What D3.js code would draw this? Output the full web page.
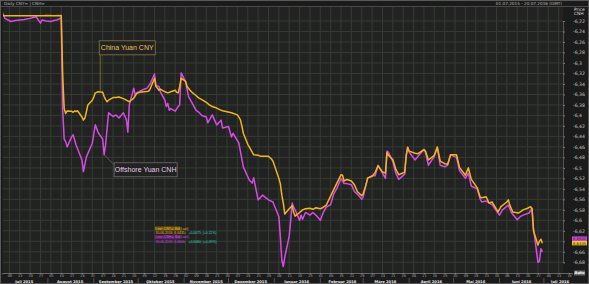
<!DOCTYPE html>
<html>
<head>
<meta charset="utf-8">
<script src="https://cdn.jsdelivr.net/npm/d3@7"></script>
<style>
  body { margin: 0; background: #1c1c1c; }
  svg { display: block; font-family: 'DejaVu Sans', sans-serif; }
</style>
</head>
<body>
<script>
// values (price shown as negative, as on the chart)
const cnyData = [
  ["2015-07-01",-6.2097],["2015-07-03",-6.2098],["2015-07-08",-6.2100],["2015-07-10",-6.2098],["2015-07-15",-6.2100],
  ["2015-07-17",-6.2100],["2015-07-22",-6.2099],["2015-07-24",-6.2100],["2015-07-29",-6.2100],["2015-07-31",-6.2097],
  ["2015-08-05",-6.2098],["2015-08-10",-6.2097],["2015-08-11",-6.3231],["2015-08-12",-6.3870],["2015-08-13",-6.3962],
  ["2015-08-14",-6.3915],["2015-08-17",-6.3920],["2015-08-18",-6.3940],["2015-08-19",-6.3917],["2015-08-20",-6.3925],
  ["2015-08-21",-6.3910],["2015-08-24",-6.4030],["2015-08-25",-6.4090],["2015-08-26",-6.4050],["2015-08-27",-6.3930],
  ["2015-08-28",-6.3800],["2015-08-31",-6.3710],["2015-09-01",-6.3650],["2015-09-02",-6.3570],["2015-09-04",-6.3550],
  ["2015-09-07",-6.3560],["2015-09-08",-6.3640],["2015-09-09",-6.3700],["2015-09-10",-6.3740],["2015-09-11",-6.3710],
  ["2015-09-14",-6.3660],["2015-09-16",-6.3660],["2015-09-18",-6.3650],["2015-09-21",-6.3680],["2015-09-23",-6.3710],
  ["2015-09-25",-6.3740],["2015-09-28",-6.3670],["2015-09-30",-6.3580],["2015-10-02",-6.3560],["2015-10-05",-6.3550],
  ["2015-10-08",-6.3540],["2015-10-09",-6.3500],["2015-10-12",-6.3290],["2015-10-13",-6.3450],["2015-10-14",-6.3480],
  ["2015-10-15",-6.3520],["2015-10-16",-6.3500],["2015-10-19",-6.3550],["2015-10-21",-6.3570],["2015-10-23",-6.3550],
  ["2015-10-26",-6.3520],["2015-10-27",-6.3560],["2015-10-28",-6.3570],["2015-10-29",-6.3450],["2015-10-30",-6.3290],
  ["2015-11-02",-6.3350],["2015-11-03",-6.3450],["2015-11-05",-6.3520],["2015-11-06",-6.3550],["2015-11-09",-6.3620],
  ["2015-11-11",-6.3670],["2015-11-13",-6.3700],["2015-11-16",-6.3750],["2015-11-18",-6.3800],["2015-11-20",-6.3830],
  ["2015-11-23",-6.3860],["2015-11-25",-6.3890],["2015-11-27",-6.3910],["2015-11-30",-6.3930],["2015-12-03",-6.3950],
  ["2015-12-07",-6.3990],["2015-12-09",-6.4080],["2015-12-10",-6.4200],["2015-12-11",-6.4340],["2015-12-14",-6.4550],
  ["2015-12-15",-6.4600],["2015-12-17",-6.4700],["2015-12-18",-6.4750],["2015-12-21",-6.4760],["2015-12-23",-6.4780],
  ["2015-12-28",-6.4780],["2015-12-30",-6.4830],["2015-12-31",-6.4870],["2016-01-04",-6.5200],["2016-01-05",-6.5300],
  ["2016-01-06",-6.5520],["2016-01-07",-6.5670],["2016-01-08",-6.5880],["2016-01-11",-6.5780],["2016-01-12",-6.5750],
  ["2016-01-13",-6.5720],["2016-01-14",-6.5850],["2016-01-15",-6.5920],["2016-01-18",-6.5850],["2016-01-20",-6.5800],
  ["2016-01-22",-6.5780],["2016-01-25",-6.5770],["2016-01-27",-6.5790],["2016-01-29",-6.5760],["2016-02-01",-6.5780],
  ["2016-02-03",-6.5750],["2016-02-05",-6.5710],["2016-02-15",-6.5130],["2016-02-16",-6.5140],["2016-02-17",-6.5250],
  ["2016-02-19",-6.5220],["2016-02-22",-6.5250],["2016-02-24",-6.5320],["2016-02-26",-6.5450],["2016-02-29",-6.5530],
  ["2016-03-01",-6.5490],["2016-03-03",-6.5310],["2016-03-04",-6.5190],["2016-03-07",-6.5160],["2016-03-09",-6.5090],
  ["2016-03-11",-6.4960],["2016-03-14",-6.5080],["2016-03-16",-6.5100],["2016-03-17",-6.4710],["2016-03-18",-6.4760],
  ["2016-03-21",-6.4840],["2016-03-23",-6.5030],["2016-03-25",-6.5130],["2016-03-29",-6.5080],["2016-03-30",-6.4780],
  ["2016-03-31",-6.4610],["2016-04-01",-6.4680],["2016-04-05",-6.4720],["2016-04-07",-6.4730],["2016-04-11",-6.4650],
  ["2016-04-12",-6.4680],["2016-04-14",-6.4850],["2016-04-18",-6.4760],["2016-04-20",-6.4600],["2016-04-22",-6.4870],
  ["2016-04-25",-6.4920],["2016-04-27",-6.4930],["2016-04-29",-6.4750],["2016-05-03",-6.4750],["2016-05-05",-6.4990],
  ["2016-05-09",-6.5140],["2016-05-11",-6.5000],["2016-05-13",-6.5220],["2016-05-17",-6.5380],["2016-05-19",-6.5560],
  ["2016-05-20",-6.5570],["2016-05-23",-6.5550],["2016-05-25",-6.5670],["2016-05-27",-6.5650],["2016-05-31",-6.5840],
  ["2016-06-02",-6.5740],["2016-06-06",-6.5650],["2016-06-07",-6.5610],["2016-06-08",-6.5710],["2016-06-10",-6.5840],
  ["2016-06-14",-6.5860],["2016-06-17",-6.5800],["2016-06-20",-6.5770],["2016-06-22",-6.5740],["2016-06-23",-6.5780],
  ["2016-06-24",-6.6200],["2016-06-27",-6.6470],["2016-06-28",-6.6400],["2016-06-29",-6.6360],["2016-06-30",-6.6435]
];

const cnhData = [
  ["2015-07-01",-6.2020],["2015-07-03",-6.2150],["2015-07-07",-6.2210],["2015-07-10",-6.2190],["2015-07-13",-6.2180],
  ["2015-07-16",-6.2170],["2015-07-20",-6.2150],["2015-07-24",-6.2120],["2015-07-27",-6.2240],["2015-07-28",-6.2180],
  ["2015-07-31",-6.2200],["2015-08-03",-6.2210],["2015-08-05",-6.2190],["2015-08-07",-6.2180],["2015-08-10",-6.2140],
  ["2015-08-11",-6.3900],["2015-08-12",-6.4450],["2015-08-13",-6.4500],["2015-08-14",-6.4600],["2015-08-17",-6.4410],
  ["2015-08-18",-6.4370],["2015-08-20",-6.4560],["2015-08-24",-6.4850],["2015-08-25",-6.5070],["2015-08-27",-6.4790],
  ["2015-08-31",-6.4530],["2015-09-02",-6.4180],["2015-09-04",-6.4330],["2015-09-07",-6.4450],["2015-09-08",-6.4750],
  ["2015-09-09",-6.4550],["2015-09-10",-6.4250],["2015-09-11",-6.3950],["2015-09-14",-6.4020],["2015-09-16",-6.3990],
  ["2015-09-18",-6.4050],["2015-09-21",-6.3950],["2015-09-23",-6.4080],["2015-09-24",-6.4320],["2015-09-25",-6.3800],
  ["2015-09-28",-6.3480],["2015-09-29",-6.3620],["2015-09-30",-6.3570],["2015-10-02",-6.3540],["2015-10-05",-6.3500],
  ["2015-10-07",-6.3480],["2015-10-09",-6.3400],["2015-10-12",-6.3210],["2015-10-13",-6.3430],["2015-10-15",-6.3450],
  ["2015-10-16",-6.3550],["2015-10-19",-6.3710],["2015-10-20",-6.3830],["2015-10-21",-6.3770],["2015-10-22",-6.3900],
  ["2015-10-23",-6.3870],["2015-10-26",-6.3920],["2015-10-28",-6.3830],["2015-10-29",-6.3800],["2015-10-30",-6.3190],
  ["2015-11-02",-6.3360],["2015-11-04",-6.3640],["2015-11-06",-6.3740],["2015-11-09",-6.3900],["2015-11-11",-6.3940],
  ["2015-11-13",-6.4000],["2015-11-16",-6.4030],["2015-11-17",-6.4140],["2015-11-20",-6.3990],["2015-11-23",-6.4180],
  ["2015-11-26",-6.4090],["2015-11-27",-6.4240],["2015-12-01",-6.4210],["2015-12-03",-6.4410],["2015-12-04",-6.4340],
  ["2015-12-08",-6.4530],["2015-12-11",-6.4980],["2015-12-15",-6.5230],["2015-12-17",-6.5290],["2015-12-18",-6.5190],
  ["2015-12-21",-6.5610],["2015-12-24",-6.5520],["2015-12-28",-6.5610],["2015-12-31",-6.5650],["2016-01-04",-6.5930],
  ["2016-01-05",-6.6310],["2016-01-06",-6.6760],["2016-01-07",-6.6880],["2016-01-08",-6.6700],["2016-01-11",-6.6300],
  ["2016-01-12",-6.6000],["2016-01-13",-6.5670],["2016-01-14",-6.5750],["2016-01-15",-6.5800],["2016-01-18",-6.6000],
  ["2016-01-19",-6.5900],["2016-01-20",-6.5980],["2016-01-22",-6.5850],["2016-01-25",-6.5900],["2016-01-27",-6.5850],
  ["2016-01-29",-6.5900],["2016-02-01",-6.6000],["2016-02-03",-6.5850],["2016-02-05",-6.5750],["2016-02-08",-6.5700],
  ["2016-02-10",-6.5500],["2016-02-12",-6.5400],["2016-02-15",-6.5200],["2016-02-17",-6.5300],["2016-02-19",-6.5300],
  ["2016-02-22",-6.5320],["2016-02-24",-6.5450],["2016-02-26",-6.5500],["2016-02-29",-6.5600],["2016-03-01",-6.5550],
  ["2016-03-03",-6.5300],["2016-03-04",-6.5200],["2016-03-07",-6.5150],["2016-03-09",-6.5150],["2016-03-11",-6.4950],
  ["2016-03-14",-6.5100],["2016-03-16",-6.5200],["2016-03-17",-6.4680],["2016-03-18",-6.4700],["2016-03-21",-6.4880],
  ["2016-03-23",-6.5100],["2016-03-25",-6.5220],["2016-03-29",-6.5120],["2016-03-30",-6.4750],["2016-03-31",-6.4600],
  ["2016-04-01",-6.4700],["2016-04-05",-6.4850],["2016-04-07",-6.4780],["2016-04-11",-6.4650],["2016-04-12",-6.4700],
  ["2016-04-14",-6.4950],["2016-04-18",-6.4780],["2016-04-20",-6.4620],["2016-04-22",-6.4950],["2016-04-25",-6.4980],
  ["2016-04-27",-6.4950],["2016-04-29",-6.4750],["2016-05-03",-6.4800],["2016-05-05",-6.5050],["2016-05-09",-6.5200],
  ["2016-05-11",-6.5100],["2016-05-13",-6.5350],["2016-05-17",-6.5400],["2016-05-19",-6.5600],["2016-05-20",-6.5650],
  ["2016-05-23",-6.5630],["2016-05-25",-6.5670],["2016-05-27",-6.5700],["2016-06-01",-6.5900],["2016-06-03",-6.5800],
  ["2016-06-07",-6.5710],["2016-06-09",-6.5850],["2016-06-13",-6.5990],["2016-06-15",-6.5930],["2016-06-17",-6.5900],
  ["2016-06-21",-6.5860],["2016-06-23",-6.5770],["2016-06-24",-6.6150],["2016-06-27",-6.6800],["2016-06-28",-6.6780],
  ["2016-06-29",-6.6540],["2016-06-30",-6.6600]
];

const yTicks = [-6.22,-6.24,-6.26,-6.28,-6.3,-6.32,-6.34,-6.36,-6.38,-6.4,-6.42,-6.44,-6.46,-6.48,
  -6.5,-6.52,-6.54,-6.56,-6.58,-6.6,-6.62,-6.64,-6.66,-6.68];
const monthNames = ["Januar","Februar","März","April","Mai","Juni","Juli","August","September","Oktober","November","Dezember"];
const xStart = "2015-07-01", xEnd = "2016-07-20";
const legendRows = [
  ["Line; CNY=; Bid(Last)", ""],
  ["30.06.2016; 6,6435;", "+0,0075; (+0,11%)"],
  ["Line; CNH=; Bid(Last)", ""],
  ["30.06.2016; 6,6600;", "+0,0060; (+0,09%)"]
];

const W = 589, H = 284;
const plot = { left: 3, right: 563, top: 7, bottom: 273 };
const cnyColor = '#f2b61c', cnhColor = '#d84ae6';
const smallFont = "'Liberation Sans', Arial, sans-serif";

const parse = d3.timeParse('%Y-%m-%d');
const de = d3.formatLocale({ decimal: ',', thousands: '.', grouping: [3], currency: ['', ' €'], minus: '-' });
const fmt = de.format('.2~f');

const svg = d3.select('body').append('svg').attr('width', W).attr('height', H);
svg.append('rect').attr('width', W).attr('height', H).attr('fill', '#1b1b1b');
svg.append('rect')
  .attr('x', plot.left).attr('y', plot.top)
  .attr('width', plot.right - plot.left).attr('height', plot.bottom - plot.top)
  .attr('fill', '#222222');

const x = d3.scaleTime().domain([parse(xStart), parse(xEnd)]).range([2, 572]);
const y = d3.scaleLinear().domain([-6.68, -6.22]).range([262.3, 21]);

svg.append('clipPath').attr('id', 'clip').append('rect')
  .attr('x', plot.left).attr('y', plot.top)
  .attr('width', plot.right - plot.left).attr('height', plot.bottom - plot.top);

// grid
const mondays = d3.timeMonday.range(parse(xStart), parse(xEnd));
const grid = svg.append('g').attr('clip-path', 'url(#clip)');
grid.selectAll('line.v').data(mondays).enter().append('line')
  .attr('x1', d => x(d)).attr('x2', d => x(d))
  .attr('y1', plot.top).attr('y2', plot.bottom)
  .attr('stroke', '#323e30').attr('stroke-width', 1);
grid.selectAll('line.h').data(yTicks).enter().append('line')
  .attr('x1', plot.left).attr('x2', plot.right)
  .attr('y1', d => y(d)).attr('y2', d => y(d))
  .attr('stroke', '#323e30').attr('stroke-width', 1);

// lines
let line = d3.line().x(d => x(parse(d[0]))).y(d => y(d[1]));
let lines = svg.append('g').attr('clip-path', 'url(#clip)');
lines.append('path').datum(cnhData).attr('d', line)
  .attr('fill', 'none').attr('stroke', cnhColor).attr('stroke-width', 1.5).attr('stroke-linejoin', 'round');
lines.append('path').datum(cnyData).attr('d', line)
  .attr('fill', 'none').attr('stroke', cnyColor).attr('stroke-width', 1.5).attr('stroke-linejoin', 'round');

// annotations
let annotate = (point, dx, dy, w, label, textColor, boxColor, diagonal) => {
  let px = x(parse(point[0])), py = y(point[1]);
  let bx = px + dx, by = py + dy;
  let g = svg.append('g');
  if (diagonal) {
    g.append('line').attr('x1', px).attr('y1', py).attr('x2', bx).attr('y2', by + 2)
      .attr('stroke', boxColor).attr('stroke-width', 0.8);
  } else {
    g.append('line').attr('x1', bx + 1).attr('y1', py).attr('x2', bx + 1).attr('y2', by + 14)
      .attr('stroke', boxColor).attr('stroke-width', 0.8);
  }
  g.append('rect').attr('x', bx).attr('y', by).attr('width', w).attr('height', 14)
    .attr('fill', '#222').attr('stroke', boxColor).attr('stroke-width', 0.8);
  g.append('text').attr('x', bx + w / 2).attr('y', by + 9.6)
    .attr('text-anchor', 'middle').attr('fill', textColor)
    .style('font-family', smallFont).style('font-size', '7px')
    .text(label);
};
annotate(cnyData.find(d => d[0] === '2015-09-04'), 1, -51, 56, 'China Yuan CNY', '#e8c35a', '#8c7a3c', false);
annotate(cnhData.find(d => d[0] === '2015-09-08'), 10, 8, 63, 'Offshore Yuan CNH', '#e4cfe6', '#6e6a70', true);

// legend block
let legend = svg.append('g').attr('transform', 'translate(155,226.5)')
  .style('font-size', '3.4px').style('font-family', smallFont);
legendRows.forEach((row, i) => {
  let col = i < 2 ? cnyColor : cnhColor;
  let ly = i * 4.4;
  if (i % 2 === 0) {
    legend.append('rect').attr('x', 0).attr('y', ly).attr('width', 25).attr('height', 4)
      .attr('fill', i < 2 ? '#6e5a12' : '#5e2266');
  }
  legend.append('text').attr('x', 0.5).attr('y', ly + 3).attr('fill', col).text(row[0]);
  if (row[1]) {
    legend.append('text').attr('x', 33.5).attr('y', ly + 3).attr('fill', '#37d6c8').text(row[1]);
  }
});

// title bar
svg.append('line').attr('x1', 0).attr('x2', W).attr('y1', 6.5).attr('y2', 6.5).attr('stroke', '#4a4a4a');
svg.append('text').attr('x', 4).attr('y', 4.6).attr('fill', '#b8b8b8').style('font-size', '4.2px')
  .text('Daily CNY= | CNH=');
svg.append('text').attr('x', 562).attr('y', 4.6).attr('text-anchor', 'end').attr('fill', '#b8b8b8')
  .style('font-size', '4.2px').text('01.07.2015 - 20.07.2016 (GMT)');

// last value tags (position first, so the price label they cover can be hidden)
let lastCny = cnyData[cnyData.length - 1][1], lastCnh = cnhData[cnhData.length - 1][1];
let tagY = y(lastCny);
let tags = [[tagY - 4.5, cnhColor, lastCnh], [tagY, '#f3c52a', lastCny]];

// right price axis
let yAxis = svg.append('g').attr('transform', `translate(${plot.right},0)`)
  .call(d3.axisRight(y).tickValues(yTicks).tickFormat(fmt).tickSize(2));
yAxis.select('.domain').attr('stroke', '#555');
yAxis.selectAll('.tick line').attr('stroke', '#777');
yAxis.selectAll('.tick text').attr('x', 10).attr('fill', '#c8c8c8')
  .style('font-size', '4.6px').style('font-family', "'DejaVu Sans', sans-serif")
  .style('display', d => (y(d) > tagY - 7.5 && y(d) < tagY + 3) ? 'none' : null);
svg.append('text').attr('x', 574).attr('y', 11).attr('fill', '#dcdcdc').style('font-size', '4.4px').text('Price');
svg.append('text').attr('x', 574).attr('y', 15).attr('fill', '#dcdcdc').style('font-size', '4.4px').text('CNH');

tags.forEach(([ty, col, v]) => {
  svg.append('rect').attr('x', 572).attr('y', ty - 2.2).attr('width', 15).attr('height', 4.4).attr('fill', col);
  svg.append('text').attr('x', 573).attr('y', ty + 1.4).attr('fill', '#222').style('font-size', '3.8px')
    .text(de.format('.4f')(-v));
});

// auto button
svg.append('rect').attr('x', 574).attr('y', 270.5).attr('width', 11).attr('height', 5).attr('fill', '#6a6a6a');
svg.append('text').attr('x', 579.5).attr('y', 274.3).attr('text-anchor', 'middle').attr('fill', '#fff')
  .style('font-size', '3.8px').style('font-weight', 'bold').text('Auto');

// date axis
let xAxis = svg.append('g').attr('transform', `translate(0,${plot.bottom})`)
  .call(d3.axisBottom(x).tickValues(mondays).tickFormat(d3.timeFormat('%d')).tickSize(1.5));
xAxis.select('.domain').attr('stroke', '#666');
xAxis.selectAll('.tick line').attr('stroke', '#888');
xAxis.selectAll('.tick text').attr('y', 1.6).attr('fill', '#b0b0b0')
  .style('font-size', '3.4px').style('font-family', "'DejaVu Sans', sans-serif");

let months = d3.timeMonth.range(d3.timeMonth.floor(parse(xStart)), parse(xEnd));
svg.selectAll('line.msep').data(months.slice(1)).enter().append('line')
  .attr('x1', d => x(d)).attr('x2', d => x(d))
  .attr('y1', plot.bottom + 5).attr('y2', H)
  .attr('stroke', '#777').attr('stroke-width', 0.6);
svg.selectAll('text.month').data(months).enter().append('text')
  .attr('x', d => {
    let mid = x(d3.timeDay.offset(d, 15));
    return d.getFullYear() === 2016 && d.getMonth() === 6 ? x(parse('2016-07-12')) : mid;
  })
  .attr('y', 282.6).attr('text-anchor', 'middle').attr('fill', '#e6e6e6')
  .style('font-size', '3.7px').style('font-weight', 'bold')
  .text(d => `${monthNames[d.getMonth()]} ${d.getFullYear()}`);

// frame
svg.append('rect').attr('x', 0.5).attr('y', 0.5).attr('width', W - 1).attr('height', H - 1)
  .attr('fill', 'none').attr('stroke', '#5a5a5a');
</script>
</body>
</html>
